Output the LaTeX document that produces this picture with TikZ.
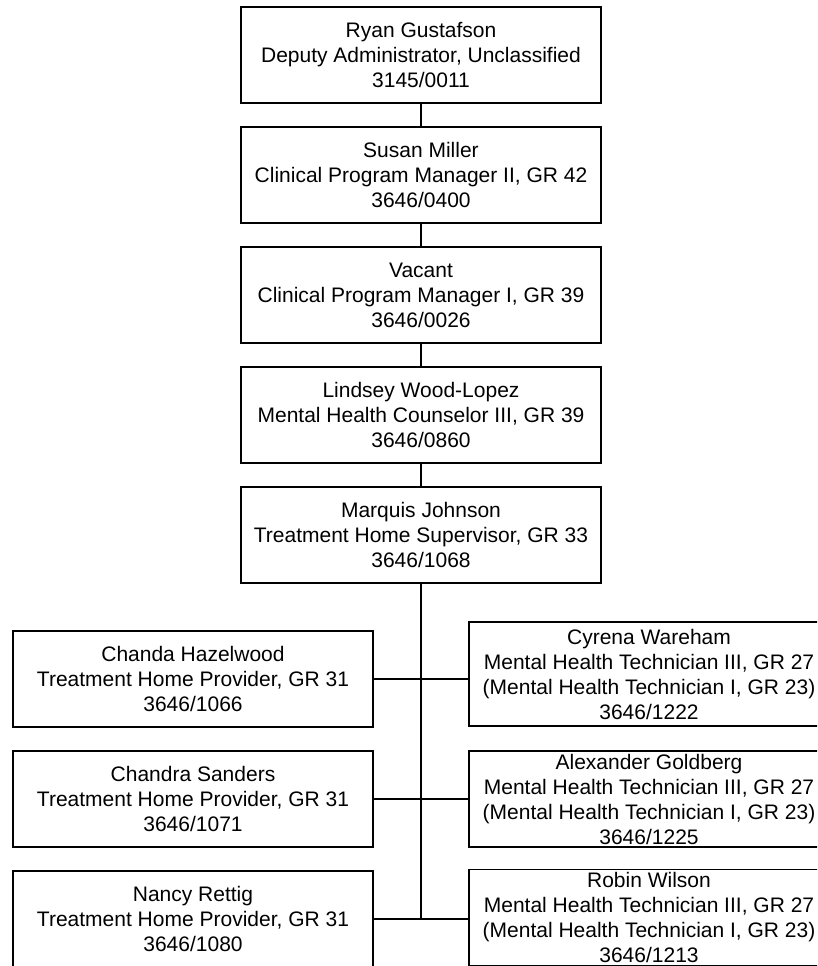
\documentclass[tikz,border=0pt]{standalone}
\usepackage{fontspec}
\setmainfont{Liberation Sans}
\begin{document}
\begin{tikzpicture}[x=1pt,y=-1pt,
  box/.style={draw, line width=1.5pt, minimum width=360pt, minimum height=96pt,
    inner sep=0pt, align=center, font=\fontsize{21}{25}\selectfont},
  link/.style={line width=1.5pt}]
\useasboundingbox (0,0) rectangle (817,966);
\clip (0,0) rectangle (817,966);
\node[box] (ryan) at (421,55) {Ryan Gustafson\\Deputy Administrator, Unclassified\\3145/0011};
\node[box] (susan) at (421,175) {Susan Miller\\Clinical Program Manager II, GR 42\\3646/0400};
\node[box] (vacant) at (421,295) {Vacant\\Clinical Program Manager I, GR 39\\3646/0026};
\node[box] (lindsey) at (421,415) {Lindsey Wood-Lopez\\Mental Health Counselor III, GR 39\\3646/0860};
\node[box] (marquis) at (421,535) {Marquis Johnson\\Treatment Home Supervisor, GR 33\\3646/1068};
\node[box] (chanda) at (193,679) {Chanda Hazelwood\\Treatment Home Provider, GR 31\\3646/1066};
\node[box] (chandra) at (193,799) {Chandra Sanders\\Treatment Home Provider, GR 31\\3646/1071};
\node[box] (nancy) at (193,919) {Nancy Rettig\\Treatment Home Provider, GR 31\\3646/1080};
\node[box, minimum height=104pt] (cyrena) at (649,674) {Cyrena Wareham\\Mental Health Technician III, GR 27\\(Mental Health Technician I, GR 23)\\3646/1222};
\node[box] (alex) at (649,799) {Alexander Goldberg\\Mental Health Technician III, GR 27\\(Mental Health Technician I, GR 23)\\3646/1225};
\node[box] (robin) at (649,917.5) {Robin Wilson\\Mental Health Technician III, GR 27\\(Mental Health Technician I, GR 23)\\3646/1213};
\draw[link] (ryan) -- (susan);
\draw[link] (susan) -- (vacant);
\draw[link] (vacant) -- (lindsey);
\draw[link] (lindsey) -- (marquis);
\coordinate (spineend) at (marquis.south |- nancy.east);
\draw[link] (marquis.south) -- (spineend);
\draw[link] (chanda.east) -- (chanda.east -| cyrena.west);
\draw[link] (chandra.east) -- (chandra.east -| alex.west);
\draw[link] (nancy.east) -- (nancy.east -| robin.west);
\end{tikzpicture}
\end{document}
